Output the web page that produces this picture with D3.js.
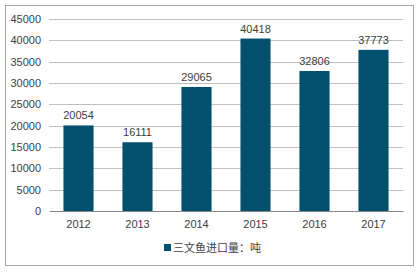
<!DOCTYPE html>
<html>
<head>
<meta charset="utf-8">
<script src="https://cdn.jsdelivr.net/npm/d3@7"></script>
<style>
  body { margin: 0; background: #fff; }
  svg { font-family: "Liberation Sans", Arial, sans-serif; }
</style>
</head>
<body>
<div id="chart"></div>
<script>
var years = ["2012", "2013", "2014", "2015", "2016", "2017"];
var imports = [20054, 16111, 29065, 40418, 32806, 37773];
var yTicks = [0, 5000, 10000, 15000, 20000, 25000, 30000, 35000, 40000, 45000];
var seriesName = "三文鱼进口量：吨";

var W = 420, H = 274;
var svg = d3.select("#chart").append("svg").attr("width", W).attr("height", H);

// outer frame
svg.append("rect").attr("x", 5.5).attr("y", 5.5).attr("width", 408).attr("height", 260)
  .attr("fill", "#fff").attr("stroke", "#a6a6a6");

var plotL = 49, plotR = 403, plotT = 19, plotB = 211;
var x = d3.scaleBand().domain(years).range([plotL, plotR]).paddingInner(0.49).paddingOuter(0.245);
var y = d3.scaleLinear().domain([0, 45000]).range([plotB, plotT]);

// grid
svg.append("g").selectAll("line").data(yTicks.slice(1)).join("line")
  .attr("x1", plotL).attr("x2", plotR)
  .attr("y1", d => Math.round(y(d)) + 0.5).attr("y2", d => Math.round(y(d)) + 0.5)
  .attr("stroke", "#bfbfbf");

var yAxis = svg.append("g").attr("transform", "translate(" + plotL + ",0)")
  .call(d3.axisLeft(y).tickValues(yTicks).tickSize(0).tickPadding(8).tickFormat(d3.format("d")));
yAxis.select(".domain").remove();
yAxis.selectAll("text").attr("font-size", 11).attr("fill", "#404040")
  .attr("font-family", "Liberation Sans, Arial, sans-serif");

svg.append("g").selectAll("rect").data(imports).join("rect")
  .attr("x", (d, i) => x(years[i])).attr("width", x.bandwidth())
  .attr("y", d => y(d)).attr("height", d => plotB - y(d))
  .attr("fill", "#00506e");

svg.append("g").selectAll("text").data(imports).join("text")
  .attr("x", (d, i) => x(years[i]) + x.bandwidth() / 2)
  .attr("y", d => y(d) - 6)
  .attr("text-anchor", "middle").attr("font-size", 11).attr("fill", "#404040")
  .text(d => d);

var xAxis = svg.append("g").attr("transform", "translate(0," + plotB + ")")
  .call(d3.axisBottom(x).tickSize(0).tickPadding(9));
xAxis.select(".domain").attr("stroke", "#868686");
xAxis.selectAll("text").attr("font-size", 11).attr("fill", "#404040")
  .attr("font-family", "Liberation Sans, Arial, sans-serif");

// legend
var lg = svg.append("g").attr("transform", "translate(164,248)");
lg.append("rect").attr("x", 0).attr("y", -4).attr("width", 7).attr("height", 7).attr("fill", "#00506e");
lg.append("text").attr("x", 9).attr("y", 4).attr("font-size", 11).attr("fill", "#404040")
  .attr("font-family", "Noto Sans CJK SC, sans-serif").text(seriesName);
</script>
</body>
</html>
